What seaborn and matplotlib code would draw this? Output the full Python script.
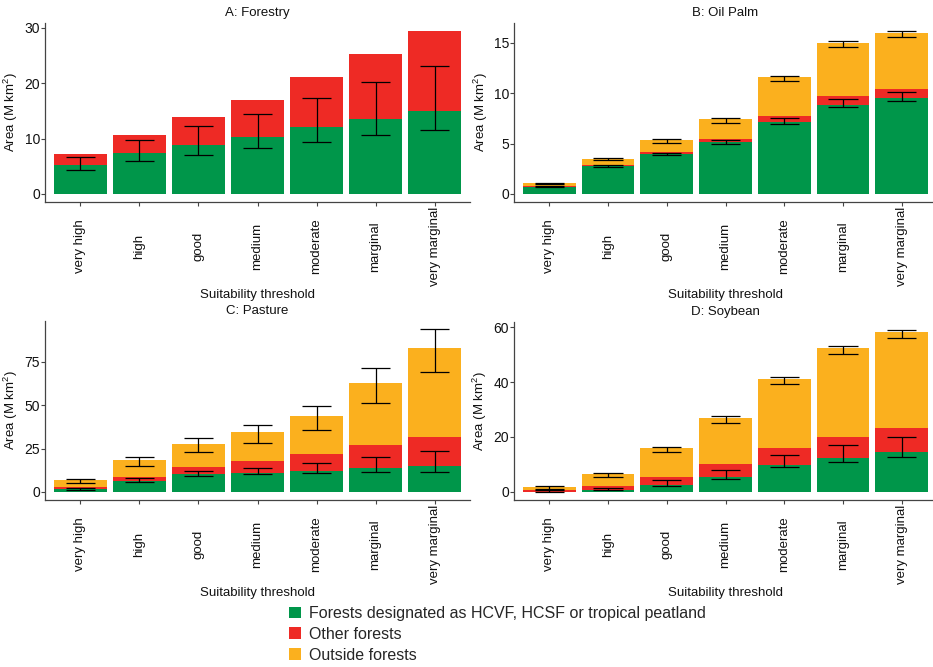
import numpy as np
import pandas as pd
import matplotlib
matplotlib.use("Agg")
import matplotlib.pyplot as plt
import seaborn as sns
from matplotlib.patches import Patch

# ---------------- data ----------------
categories = ["very high", "high", "good", "medium", "moderate", "marginal", "very marginal"]

# A: Forestry
a_hcv = [5.2, 7.3, 8.9, 10.3, 12.0, 13.5, 14.9]
a_other = [2.0, 3.3, 4.9, 6.7, 9.2, 11.7, 14.5]
a_outside = [0, 0, 0, 0, 0, 0, 0]
a_forest_err_lo = [4.35, 5.85, 7.1, 8.2, 9.3, 10.55, 11.45]
a_forest_err_hi = [6.6, 9.7, 12.2, 14.5, 17.35, 20.2, 23.1]

# B: Oil Palm
b_hcv = [0.72, 2.72, 4.0, 5.15, 7.15, 8.79, 9.48]
b_other = [0.04, 0.13, 0.16, 0.29, 0.62, 0.95, 0.98]
b_outside = [0.29, 0.65, 1.14, 1.96, 3.83, 5.26, 5.54]
b_forest_err_lo = [0.69, 2.65, 3.9, 5.0, 6.98, 8.59, 9.18]
b_forest_err_hi = [0.76, 2.82, 4.1, 5.3, 7.57, 9.41, 10.16]
b_total_err_lo = [0.95, 3.35, 5.1, 7.08, 11.2, 14.59, 15.57]
b_total_err_hi = [1.08, 3.6, 5.4, 7.5, 11.74, 15.18, 16.16]

# C: Pasture
c_hcv = [1.9, 6.3, 10.3, 11.0, 12.2, 13.5, 14.9]
c_other = [1.0, 2.5, 4.0, 6.9, 9.5, 13.7, 16.5]
c_outside = [3.8, 9.3, 13.5, 16.6, 22.3, 35.5, 51.5]
c_forest_err_lo = [1.3, 5.9, 9.1, 10.1, 10.9, 11.6, 11.6]
c_forest_err_hi = [2.5, 7.8, 12.2, 13.9, 16.6, 20.2, 23.4]
c_total_err_lo = [5.3, 15.0, 23.0, 28.4, 35.6, 51.0, 69.3]
c_total_err_hi = [7.6, 20.2, 31.0, 38.3, 49.3, 71.6, 93.9]

# D: Soybean
d_hcv = [0.1, 0.6, 2.5, 5.4, 9.8, 12.3, 14.6]
d_other = [0.6, 1.7, 3.0, 4.6, 6.3, 7.8, 8.8]
d_outside = [1.1, 4.3, 10.4, 17.0, 25.1, 32.3, 34.9]
d_forest_err_lo = [0.1, 0.6, 2.2, 4.8, 9.0, 11.0, 12.8]
d_forest_err_hi = [0.6, 1.4, 4.3, 8.0, 13.4, 17.0, 20.0]
d_total_err_lo = [1.2, 5.6, 14.5, 25.1, 39.2, 50.3, 56.0]
d_total_err_hi = [2.0, 6.9, 16.2, 27.6, 41.9, 53.2, 58.9]

titles = ["A: Forestry", "B: Oil Palm", "C: Pasture", "D: Soybean"]
yticks_list = [[0, 10, 20, 30], [0, 5, 10, 15], [0, 25, 50, 75], [0, 20, 40, 60]]
legend_labels = ["Forests designated as HCVF, HCSF or tropical peatland",
                 "Other forests", "Outside forests"]

C_GREEN = "#00964A"
C_RED = "#EE2A25"
C_ORANGE = "#FBB01E"

# ---------------- style ----------------
sns.set_theme(style="white")
plt.rcParams["font.family"] = ["Liberation Sans", "DejaVu Sans"]
plt.rcParams["mathtext.default"] = "regular"

fig = plt.figure(figsize=(9.33, 6.67), dpi=100)
W, H = 933.0, 667.0


def px_axes(left, top, width, bottom):
    return fig.add_axes([left / W, 1 - bottom / H, width / W, (bottom - top) / H])


panels = [
    (px_axes(45, 23, 425, 202), a_hcv, a_other, a_outside, a_forest_err_lo, a_forest_err_hi, None, None),
    (px_axes(514, 23, 423, 202), b_hcv, b_other, b_outside, b_forest_err_lo, b_forest_err_hi, b_total_err_lo, b_total_err_hi),
    (px_axes(45, 321, 425, 500), c_hcv, c_other, c_outside, c_forest_err_lo, c_forest_err_hi, c_total_err_lo, c_total_err_hi),
    (px_axes(514, 322, 423, 500), d_hcv, d_other, d_outside, d_forest_err_lo, d_forest_err_hi, d_total_err_lo, d_total_err_hi),
]

for i, (ax, hcv, other, outside, flo, fhi, tlo, thi) in enumerate(panels):
    hcv = np.array(hcv)
    forest = hcv + np.array(other)
    total = forest + np.array(outside)
    df = pd.DataFrame({"cat": categories, "hcv": hcv, "forest": forest, "total": total})

    if np.any(np.array(outside) > 0):
        sns.barplot(data=df, x="cat", y="total", order=categories, color=C_ORANGE,
                    saturation=1, width=0.9, ax=ax, linewidth=0)
    sns.barplot(data=df, x="cat", y="forest", order=categories, color=C_RED,
                saturation=1, width=0.9, ax=ax, linewidth=0)
    sns.barplot(data=df, x="cat", y="hcv", order=categories, color=C_GREEN,
                saturation=1, width=0.9, ax=ax, linewidth=0)

    xpos = np.arange(len(categories))
    err_sets = [(flo, fhi)]
    if tlo is not None:
        err_sets.append((tlo, thi))
    ymax = total.max()
    for lo, hi in err_sets:
        lo = np.array(lo)
        hi = np.array(hi)
        ax.vlines(xpos, lo, hi, color="black", linewidth=0.9, zorder=5)
        ax.hlines(lo, xpos - 0.25, xpos + 0.25, color="black", linewidth=0.9, zorder=5)
        ax.hlines(hi, xpos - 0.25, xpos + 0.25, color="black", linewidth=0.9, zorder=5)
        ymax = max(ymax, hi.max())

    ax.set_xlim(-0.6, 6.6)
    ax.set_ylim(-0.05 * ymax, 1.05 * ymax)
    ax.set_yticks(yticks_list[i])
    ax.set_title(titles[i], fontsize=9.5, color="#111111", pad=5)
    ax.set_ylabel("Area (M km$^{2}$)", fontsize=9.5, color="#111111", labelpad=3)
    ax.set_xlabel("Suitability threshold", fontsize=9.5, color="#111111", labelpad=2)

    for s in ["top", "right"]:
        ax.spines[s].set_visible(False)
    for s in ["left", "bottom"]:
        ax.spines[s].set_color("#444444")
        ax.spines[s].set_linewidth(0.9)

    ax.tick_params(axis="both", bottom=True, left=True, length=3, width=0.8,
                   color="#444444")
    ax.tick_params(axis="y", labelsize=10, labelcolor="#111111", pad=0.5)
    ax.tick_params(axis="x", labelsize=9.5, labelcolor="#111111", pad=29)
    for lbl in ax.get_xticklabels():
        lbl.set_rotation(90)
        lbl.set_verticalalignment("center")
        lbl.set_horizontalalignment("center")

handles = [Patch(facecolor=c, edgecolor="none") for c in (C_GREEN, C_RED, C_ORANGE)]
fig.legend(handles, legend_labels, loc="upper left",
           bbox_to_anchor=(289 / W, 1 - 606 / H), frameon=False, fontsize=11.5,
           handlelength=0.75, handleheight=0.75, handletextpad=0.5, labelspacing=0.37,
           borderaxespad=0, borderpad=0)

fig.savefig("out.png", dpi=100)
